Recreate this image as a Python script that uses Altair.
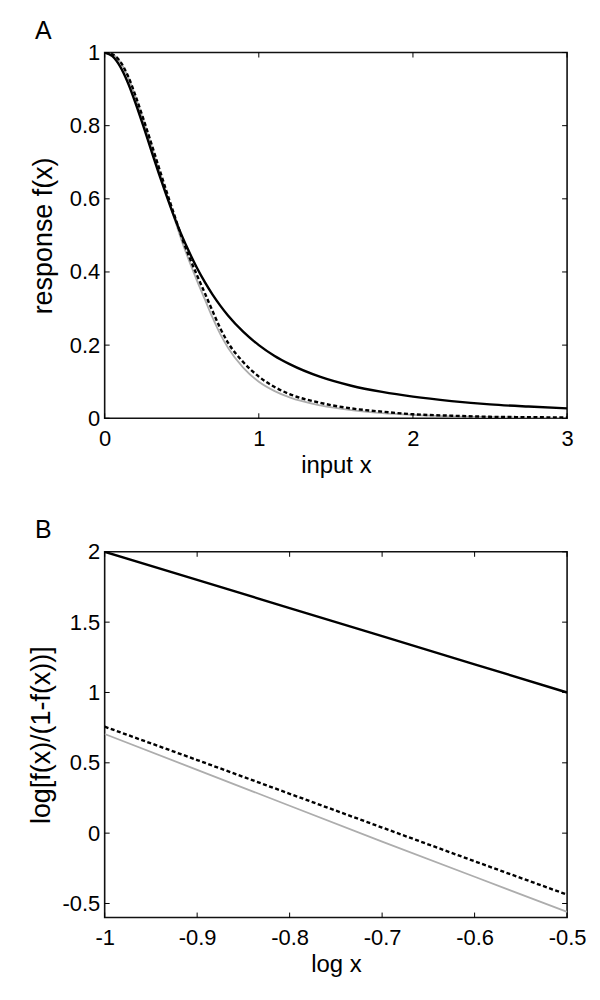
import altair as alt
import pandas as pd

FONT = "Liberation Sans"

# ---------------- Panel A data ----------------
A_X = [0, 0.05, 0.1, 0.15, 0.2, 0.25, 0.3, 0.35, 0.4, 0.45, 0.5, 0.55, 0.6, 0.65,
       0.7, 0.75, 0.8, 0.9, 1.0, 1.1, 1.2, 1.4, 1.6, 1.8, 2.0, 2.25, 2.5, 2.75, 3.0]
A_SOLID = [1.0, 0.99, 0.962, 0.918, 0.862, 0.80, 0.735, 0.671, 0.61, 0.552, 0.50, 0.453,
           0.41, 0.372, 0.338, 0.308, 0.281, 0.236, 0.20, 0.171, 0.148, 0.113, 0.089,
           0.072, 0.059, 0.047, 0.038, 0.032, 0.027]
A_DASHED = [1.0, 0.995, 0.976, 0.937, 0.882, 0.82, 0.755, 0.688, 0.622, 0.558, 0.495,
            0.44, 0.39, 0.342, 0.293, 0.246, 0.207, 0.153, 0.114, 0.086, 0.066, 0.042,
            0.027, 0.018, 0.011, 0.007, 0.004, 0.003, 0.002]
A_GRAY = [1.0, 0.995, 0.975, 0.935, 0.879, 0.816, 0.75, 0.682, 0.615, 0.549, 0.485,
          0.428, 0.375, 0.325, 0.275, 0.23, 0.193, 0.138, 0.10, 0.075, 0.057, 0.035,
          0.022, 0.014, 0.009, 0.005, 0.003, 0.002, 0.001]
A_XTICKS = [0, 1, 2, 3]
A_YTICKS = [0, 0.2, 0.4, 0.6, 0.8, 1]

# ---------------- Panel B data ----------------
B_X = [-1.0, -0.9, -0.8, -0.7, -0.6, -0.5]
B_SOLID = [2.0, 1.8, 1.6, 1.4, 1.2, 1.0]
B_DASHED = [0.757, 0.52, 0.28, 0.04, -0.20, -0.437]
B_GRAY = [0.705, 0.45, 0.195, -0.06, -0.31, -0.56]
B_XTICKS = [-1, -0.9, -0.8, -0.7, -0.6, -0.5]
B_YTICKS = [-0.5, 0, 0.5, 1, 1.5, 2]

W = 464
H = 367
TICK = 5

LABEL_EXPR = ("datum.value < 0 ? '-' + format(-datum.value, '~g') : "
              "format(datum.value, '~g')")


def panel(xs, solid, dashed, gray, xticks, yticks, xdom, ydom, xtitle, ytitle,
          letter, ytitle_pad, interp):
    xaxis = alt.Axis(values=xticks, title=xtitle, labelExpr=LABEL_EXPR, ticks=False,
                     domain=False, grid=False, labelPadding=10, titlePadding=4,
                     titleFontSize=24, labelFlush=False, labelOverlap=False)
    yaxis = alt.Axis(values=yticks, title=ytitle, labelExpr=LABEL_EXPR, ticks=False,
                     domain=False, grid=False, labelPadding=5, titlePadding=ytitle_pad,
                     titleFontSize=27, labelFlush=False, labelOverlap=False)
    xenc = alt.X("x:Q", scale=alt.Scale(domain=xdom, nice=False, zero=False), axis=xaxis)
    yenc = alt.Y("y:Q", scale=alt.Scale(domain=ydom, nice=False, zero=False), axis=yaxis)

    def line(ys, **style):
        df = pd.DataFrame({"x": xs, "y": ys})
        return alt.Chart(df).mark_line(interpolate=interp, clip=True, **style).encode(
            x=xenc, y=yenc)

    l_gray = line(gray, color="#adadad", strokeWidth=1.8)
    l_dash = line(dashed, color="black", strokeWidth=2.4, strokeDash=[4, 2.5])
    l_solid = line(solid, color="black", strokeWidth=2.4)

    xt = pd.DataFrame({"x": xticks})
    yt = pd.DataFrame({"y": yticks})
    t_bottom = alt.Chart(xt).mark_rule(color="black", strokeWidth=1).encode(
        x=xenc, y=alt.value(H), y2=alt.value(H - TICK))
    t_top = alt.Chart(xt).mark_rule(color="black", strokeWidth=1).encode(
        x=xenc, y=alt.value(0), y2=alt.value(TICK))
    t_left = alt.Chart(yt).mark_rule(color="black", strokeWidth=1).encode(
        y=yenc, x=alt.value(0), x2=alt.value(TICK))
    t_right = alt.Chart(yt).mark_rule(color="black", strokeWidth=1).encode(
        y=yenc, x=alt.value(W), x2=alt.value(W - TICK))

    return alt.layer(l_gray, l_dash, l_solid, t_bottom, t_top, t_left, t_right).properties(
        width=W, height=H,
        title=alt.TitleParams(letter, anchor="start", frame="group", fontSize=25,
                              fontWeight="normal", font=FONT, color="black", dx=-70,
                              offset=-22, baseline="alphabetic"))


chart_a = panel(A_X, A_SOLID, A_DASHED, A_GRAY, A_XTICKS, A_YTICKS, [0, 3], [0, 1],
                "input x", "response f(x)", "A", 12, "monotone")
chart_b = panel(B_X, B_SOLID, B_DASHED, B_GRAY, B_XTICKS, B_YTICKS, [-1, -0.5], [-0.6, 2],
                "log x", "log[f(x)/(1-f(x))]", "B", 6, "linear")

chart = alt.vconcat(chart_a, chart_b, spacing=39).properties(
    padding={"left": 19, "top": 8, "right": 5, "bottom": 5}
).configure_view(
    stroke="#111111", strokeWidth=1.6
).configure_axis(
    labelFont=FONT, labelFontSize=22, labelColor="black",
    titleFont=FONT, titleFontSize=23, titleFontWeight="normal", titleColor="black"
)

chart.save("out.html", embed_options={"renderer": "svg", "actions": False})
